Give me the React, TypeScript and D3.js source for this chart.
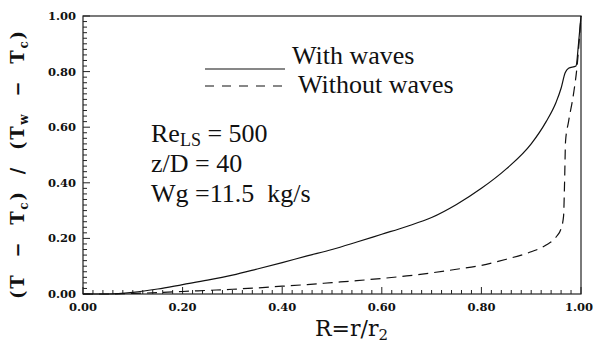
import React from "react";
import * as d3 from "d3";

// radial position R = r/r2
const withWavesR = [0, 0.05, 0.1, 0.15, 0.2, 0.25, 0.3, 0.35, 0.4, 0.45, 0.5, 0.55, 0.6, 0.65, 0.7, 0.75, 0.8, 0.85, 0.9, 0.93, 0.95, 0.96, 0.968, 0.975, 0.99, 0.995, 1.0];
const withWavesT = [0, 0, 0.006, 0.018, 0.034, 0.05, 0.068, 0.09, 0.113, 0.137, 0.16, 0.187, 0.215, 0.243, 0.275, 0.322, 0.38, 0.45, 0.54, 0.62, 0.69, 0.74, 0.795, 0.812, 0.82, 0.9, 1.0];

const noWavesR = [0, 0.05, 0.1, 0.15, 0.2, 0.25, 0.3, 0.35, 0.4, 0.45, 0.5, 0.55, 0.6, 0.65, 0.7, 0.75, 0.8, 0.85, 0.9, 0.93, 0.95, 0.96, 0.965, 0.967, 0.969, 0.975, 0.985, 0.992, 1.0];
const noWavesT = [0, 0, 0.002, 0.005, 0.009, 0.013, 0.017, 0.022, 0.028, 0.034, 0.041, 0.048, 0.056, 0.065, 0.076, 0.089, 0.103, 0.125, 0.152, 0.176, 0.205, 0.235, 0.28, 0.4, 0.55, 0.62, 0.72, 0.817, 1.0];

const majorTicks = [0, 0.2, 0.4, 0.6, 0.8, 1.0];
const minorTicks = d3.range(0, 1.0001, 0.02);

const legendLabels = ["With waves", "Without waves"];

const w = 593,
  h = 343,
  margin = { top: 16, right: 12, bottom: 49, left: 83 };

const width = w - margin.left - margin.right,
  height = h - margin.top - margin.bottom;

const tickFont = "'DejaVu Serif'";
const textFont = "'Liberation Serif'";

export default function App() {
  const x = d3.scaleLinear().domain([0, 1]).range([0, width]);
  const y = d3.scaleLinear().domain([0, 1]).range([height, 0]);
  const fmt = d3.format(".2f");

  const line = d3
    .line<[number, number]>()
    .x((d) => x(d[0]))
    .y((d) => y(d[1]))
    .curve(d3.curveMonotoneX);

  const solid = line(withWavesR.map((r, i) => [r, withWavesT[i]]));
  const dashed = line(noWavesR.map((r, i) => [r, noWavesT[i]]));

  const isMajor = (t: number) => Math.abs(t * 5 - Math.round(t * 5)) < 1e-6;

  return (
    <svg
      width={w}
      height={h}
      style={{ position: "absolute", left: 0, top: 0, background: "#fff" }}
    >
      <g transform={`translate(${margin.left},${margin.top})`}>
        {/* frame */}
        <rect x={0} y={0} width={width} height={height} fill="none" stroke="#222" strokeWidth={1.2} />

        {/* minor + major ticks */}
        {minorTicks.map((t, i) => {
          const len = isMajor(t) ? 7 : 4;
          return (
            <g key={i} stroke="#222" strokeWidth={1}>
              <line x1={x(t)} x2={x(t)} y1={height} y2={height - len} />
              <line x1={0} x2={len} y1={y(t)} y2={y(t)} />
            </g>
          );
        })}

        {/* tick labels */}
        {majorTicks.map((t, i) => (
          <g key={i} fontFamily={tickFont} fontWeight="bold" fontSize={11.5} fill="#111">
            <text x={t === 1 ? x(t) - 2 : x(t)} y={height + 17} textAnchor="middle">
              {fmt(t)}
            </text>
            <text x={-7} y={y(t) + 4} textAnchor="end">
              {fmt(t)}
            </text>
          </g>
        ))}

        {/* curves */}
        <path d={solid || ""} fill="none" stroke="#111" strokeWidth={1.2} />
        <path d={dashed || ""} fill="none" stroke="#111" strokeWidth={1.2} strokeDasharray="10,6" />
      </g>

      {/* legend */}
      <g fontFamily={textFont} fontSize={26} fill="#111">
        <line x1={205} x2={285} y1={69} y2={69} stroke="#111" strokeWidth={1.2} />
        <text x={292} y={64}>{legendLabels[0]}</text>
        <line x1={205} x2={283} y1={86} y2={86} stroke="#111" strokeWidth={1.2} strokeDasharray="9,8" />
        <text x={298} y={93}>{legendLabels[1]}</text>
      </g>

      {/* annotations */}
      <g fontFamily={textFont} fontSize={26} fill="#111">
        <text x={151} y={142}>
          Re<tspan fontSize={18} dy={4}>LS</tspan>
          <tspan dy={-4}> = 500</tspan>
        </text>
        <text x={151} y={172}>z/D = 40</text>
        <text x={151} y={202} style={{ whiteSpace: "pre" }}>
          Wg =11.5  kg/s
        </text>
      </g>

      {/* axis titles */}
      <text x={315} y={336} fontFamily={tickFont} fontSize={22} fill="#111">
        R=r/r<tspan fontSize={15} dy={4}>2</tspan>
      </text>
      <text
        transform="translate(24,165) rotate(-90)"
        textAnchor="middle"
        style={{ whiteSpace: "pre" }}
        fontFamily={tickFont}
        fontWeight="bold"
        fontSize={18}
        fill="#111"
        textLength={268}
        lengthAdjust="spacing"
      >
        (T  −  T<tspan fontSize={12} dy={4}>c</tspan>
        <tspan dy={-4}>)  /  (T</tspan>
        <tspan fontSize={12} dy={4}>w</tspan>
        <tspan dy={-4}>  −  T</tspan>
        <tspan fontSize={12} dy={4}>c</tspan>
        <tspan dy={-4}>)</tspan>
      </text>
    </svg>
  );
}
